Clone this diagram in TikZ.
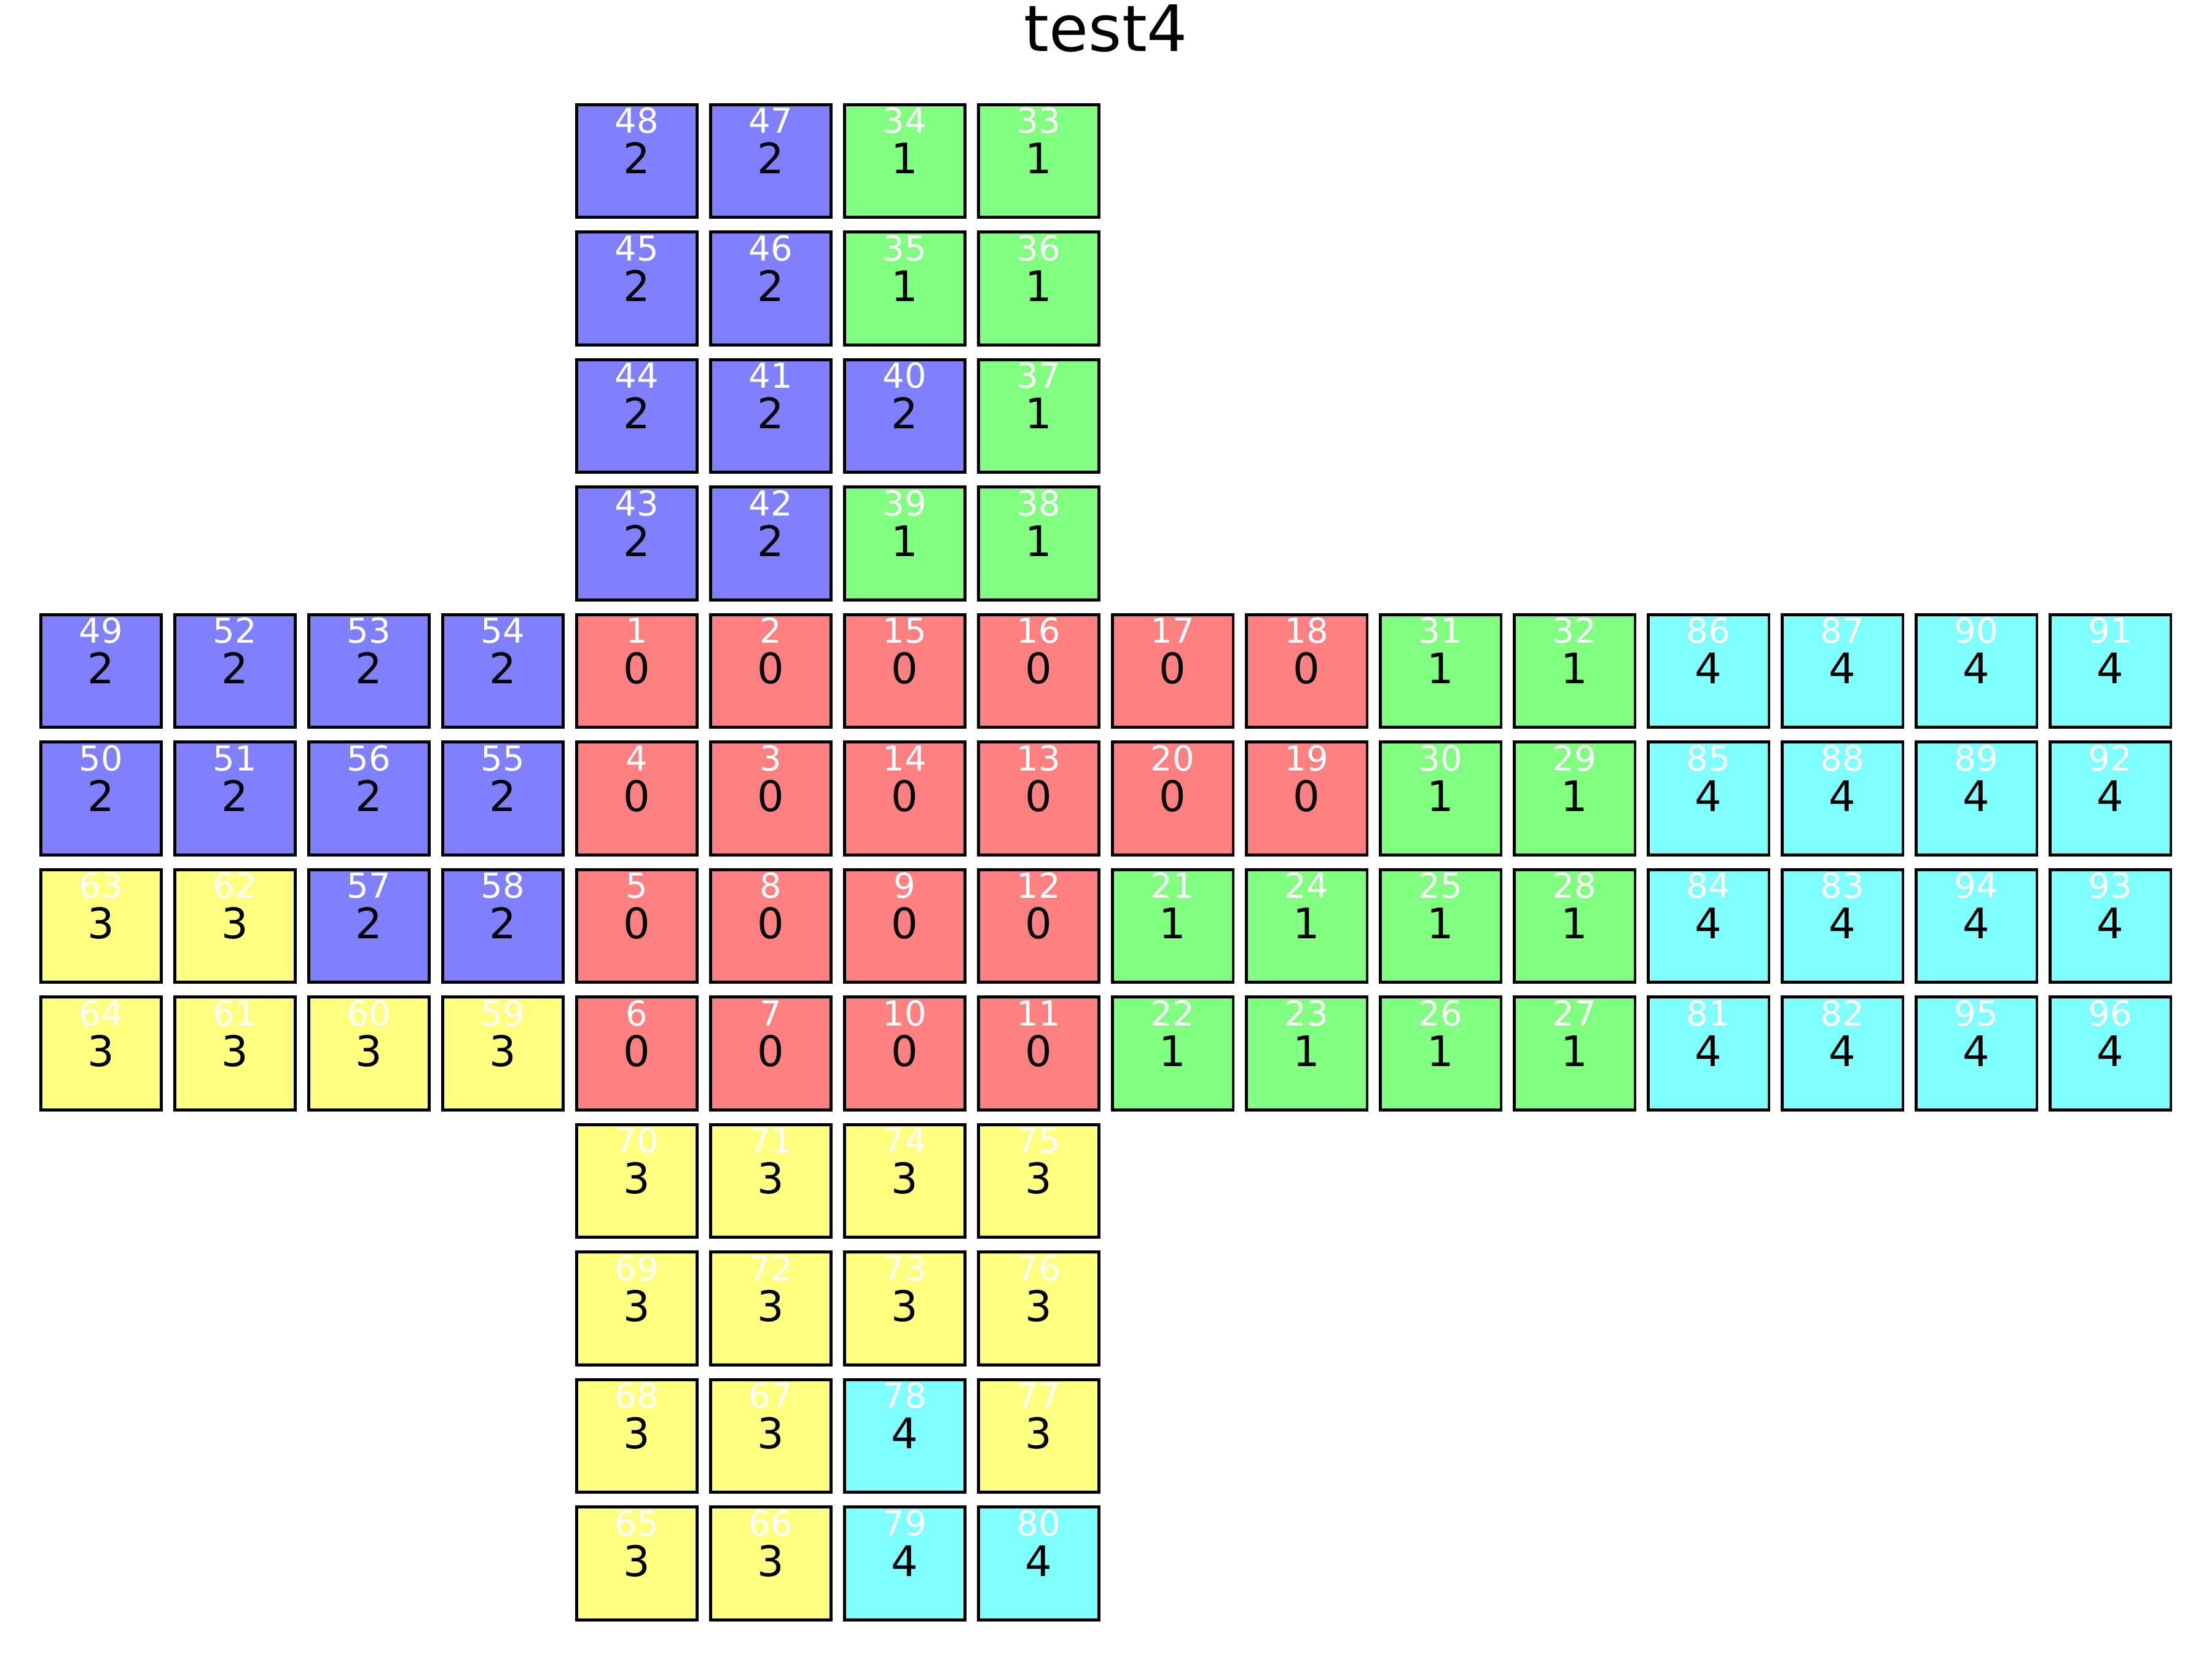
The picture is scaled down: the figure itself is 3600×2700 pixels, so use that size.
\documentclass[tikz,border=0pt]{standalone}
\usepackage{xcolor}
\usepackage{fontspec}
\setmainfont{DejaVu Sans}
\usepackage{tikz}
\usetikzlibrary{positioning, calc}

\definecolor{face0}{HTML}{FF8080}
\definecolor{face1}{HTML}{80FF80}
\definecolor{face2}{HTML}{8080FF}
\definecolor{face3}{HTML}{FFFF80}
\definecolor{face4}{HTML}{80FFFF}

% one sticker: column, row, index, value
\newcommand{\sticker}[4]{%
  \node[cell, fill=face#4] (s#3) at ({164.5+218*#1}, {262+207.5*#2}) {};
  \node[idx] (n#3) at ($(s#3.north)+(0,49)$) {#3};
  \node[val] (v#3) at ($(s#3.north)+(0,115)$) {#4};
}

\begin{document}
\begin{tikzpicture}[
    x=0.01cm, y=-0.01cm,
    cell/.style={rectangle, draw=black, line width=1.3pt, minimum width=1.964cm, minimum height=1.834cm, inner sep=0pt},
    idx/.style={text=white, font=\fontsize{15.9}{16}\selectfont, anchor=base, inner sep=0pt},
    val/.style={text=black, font=\fontsize{19.5}{20}\selectfont, anchor=base, inner sep=0pt}
]
\useasboundingbox (0,0) rectangle (3600,2700);

% Title
\node[font=\fontsize{29.6}{30}\selectfont, anchor=base] (title) at (1800,84) {test4};

% Upper face
\foreach \sid/\sval [count=\c from 4] in {48/2, 47/2, 34/1, 33/1} {\sticker{\c}{0}{\sid}{\sval}}
\foreach \sid/\sval [count=\c from 4] in {45/2, 46/2, 35/1, 36/1} {\sticker{\c}{1}{\sid}{\sval}}
\foreach \sid/\sval [count=\c from 4] in {44/2, 41/2, 40/2, 37/1} {\sticker{\c}{2}{\sid}{\sval}}
\foreach \sid/\sval [count=\c from 4] in {43/2, 42/2, 39/1, 38/1} {\sticker{\c}{3}{\sid}{\sval}}

% Middle band
\foreach \sid/\sval [count=\c from 0] in {49/2, 52/2, 53/2, 54/2, 1/0, 2/0, 15/0, 16/0, 17/0, 18/0, 31/1, 32/1, 86/4, 87/4, 90/4, 91/4} {\sticker{\c}{4}{\sid}{\sval}}
\foreach \sid/\sval [count=\c from 0] in {50/2, 51/2, 56/2, 55/2, 4/0, 3/0, 14/0, 13/0, 20/0, 19/0, 30/1, 29/1, 85/4, 88/4, 89/4, 92/4} {\sticker{\c}{5}{\sid}{\sval}}
\foreach \sid/\sval [count=\c from 0] in {63/3, 62/3, 57/2, 58/2, 5/0, 8/0, 9/0, 12/0, 21/1, 24/1, 25/1, 28/1, 84/4, 83/4, 94/4, 93/4} {\sticker{\c}{6}{\sid}{\sval}}
\foreach \sid/\sval [count=\c from 0] in {64/3, 61/3, 60/3, 59/3, 6/0, 7/0, 10/0, 11/0, 22/1, 23/1, 26/1, 27/1, 81/4, 82/4, 95/4, 96/4} {\sticker{\c}{7}{\sid}{\sval}}

% Lower face
\foreach \sid/\sval [count=\c from 4] in {70/3, 71/3, 74/3, 75/3} {\sticker{\c}{8}{\sid}{\sval}}
\foreach \sid/\sval [count=\c from 4] in {69/3, 72/3, 73/3, 76/3} {\sticker{\c}{9}{\sid}{\sval}}
\foreach \sid/\sval [count=\c from 4] in {68/3, 67/3, 78/4, 77/3} {\sticker{\c}{10}{\sid}{\sval}}
\foreach \sid/\sval [count=\c from 4] in {65/3, 66/3, 79/4, 80/4} {\sticker{\c}{11}{\sid}{\sval}}

\end{tikzpicture}
\end{document}
